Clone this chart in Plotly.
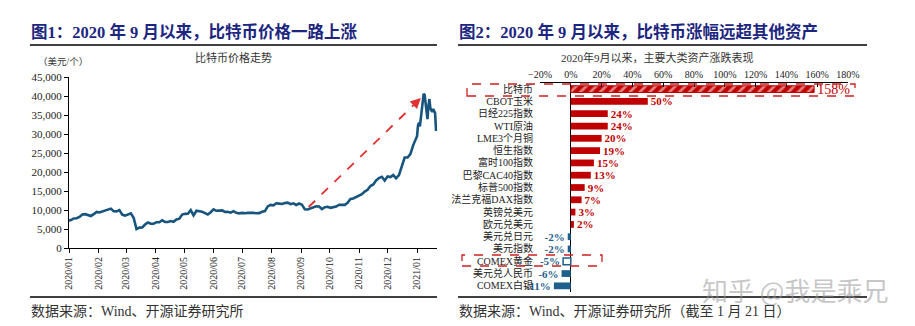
import pandas as pd
import plotly.graph_objects as go

W, H = 915, 326

# ---------------- data: Bitcoin price (USD) ----------------
first_value = 7200  # 2020-01-01
values_2020 = [
    7340, 7770, 7830, 8180, 8820, 8900, 8680, 8430, 8900, 9500,
    9340, 9620, 9900, 10250, 10360, 9700, 9600, 9980, 8780, 8530,
    8760, 9120, 7940, 4970, 5360, 5400, 6190, 6720, 6370, 6400,
    6790, 6780, 7300, 6880, 6850, 7100, 6880, 7500, 7700, 8790,
    8990, 9030, 9990, 8600, 9790, 9670, 9520, 9180, 8840, 9430,
    10200, 9790, 9760, 9890, 9470, 9530, 9300, 9690, 9250, 9120,
    9230, 9130, 9250, 9280, 9240, 9130, 9170, 9530, 9700, 10950,
    11330, 11230, 11760, 11680, 11580, 11850, 11950, 11530, 11750, 11330,
    11700, 11400, 10170, 10130, 10390, 10680, 10950, 10930, 10250, 10730,
    10840, 10570, 10790, 10920, 11380, 11430, 11360, 11920, 12930, 13030,
    13460, 13740, 14150, 14830, 15300, 16300, 16720, 17800, 18400, 18730,
    17730, 18800, 18650, 19190, 18320, 19170, 21300, 23800, 23820, 24700,
    27080, 28950,
]
values_2021 = [
    29400, 32200, 33000, 32000, 34000, 36800, 39400, 40600, 40250, 38300,
    35500, 33900, 37300, 39200, 36800, 36100, 35800, 36600, 36000, 35500,
    30800,
]
dates = ([pd.Timestamp("2020-01-01")]
         + list(pd.date_range("2020-01-03", periods=len(values_2020), freq="3D"))
         + list(pd.date_range("2021-01-01", periods=len(values_2021), freq="D")))
prices = [first_value] + values_2020 + values_2021

month_ticks = list(pd.date_range("2020-01-01", "2021-01-01", freq="MS"))
month_labels = [d.strftime("%Y/%m") for d in month_ticks]

# ---------------- data: asset performance since Sep 2020 ----------------
assets = ["比特币", "CBOT玉米", "日经225指数", "WTI原油", "LME3个月铜", "恒生指数",
          "富时100指数", "巴黎CAC40指数", "标普500指数", "法兰克福DAX指数",
          "英镑兑美元", "欧元兑美元", "美元兑日元", "美元指数", "COMEX黄金",
          "美元兑人民币", "COMEX白银"]
returns = [158, 50, 24, 24, 20, 19, 15, 13, 9, 7, 3, 2, -2, -2, -5, -6, -11]

RED = "#c00000"
BLUE = "#1f5f8b"
NAVY = "#1c2680"
LINE = "#17557f"
FONT = "Liberation Serif, Noto Sans CJK SC"

fig = go.Figure()

# left: price line
fig.add_trace(go.Scatter(x=dates, y=prices, mode="lines",
                         line=dict(color=LINE, width=2.6),
                         xaxis="x", yaxis="y", showlegend=False, hoverinfo="skip"))

# right: bars
pos_idx = [i for i, v in enumerate(returns) if v > 0 and assets[i] != "比特币"]
neg_idx = [i for i, v in enumerate(returns) if v < 0 and assets[i] != "COMEX黄金"]
btc_idx = [assets.index("比特币")]
gold_idx = [assets.index("COMEX黄金")]

def sub(idx):
    return [returns[i] for i in idx], [assets[i] for i in idx], [f"{returns[i]}%" for i in idx]

xv, yv, tv = sub(pos_idx)
fig.add_trace(go.Bar(x=xv, y=yv, orientation="h", text=tv, textposition="outside",
                     constraintext="none", cliponaxis=False,
                     textfont=dict(color=RED, size=11, family=FONT, weight="bold"),
                     marker=dict(color=RED, line=dict(width=0)),
                     xaxis="x2", yaxis="y2", showlegend=False))
xv, yv, tv = sub(neg_idx)
fig.add_trace(go.Bar(x=xv, y=yv, orientation="h", text=tv, textposition="outside",
                     constraintext="none", cliponaxis=False,
                     textfont=dict(color=BLUE, size=11, family=FONT, weight="bold"),
                     marker=dict(color=BLUE, line=dict(width=0)),
                     xaxis="x2", yaxis="y2", showlegend=False))
xv, yv, tv = sub(btc_idx)
fig.add_trace(go.Bar(x=xv, y=yv, orientation="h", text=tv, textposition="outside",
                     constraintext="none", cliponaxis=False,
                     textfont=dict(color=RED, size=14, family=FONT),
                     marker=dict(color=RED, line=dict(color=RED, width=1),
                                 pattern=dict(shape="/", fgcolor="white", bgcolor=RED,
                                              size=7, solidity=0.4, fillmode="overlay")),
                     xaxis="x2", yaxis="y2", showlegend=False))
xv, yv, tv = sub(gold_idx)
fig.add_trace(go.Bar(x=xv, y=yv, orientation="h", text=tv, textposition="outside",
                     constraintext="none", cliponaxis=False,
                     textfont=dict(color=BLUE, size=11, family=FONT, weight="bold"),
                     marker=dict(color="white", line=dict(color=BLUE, width=1.5)),
                     xaxis="x2", yaxis="y2", showlegend=False))

def px(x):
    return x / W

def py(y):
    return 1 - y / H

fig.update_layout(
    width=W, height=H, margin=dict(l=0, r=0, t=0, b=0, pad=0, autoexpand=False),
    paper_bgcolor="white", plot_bgcolor="white",
    barmode="overlay", bargap=0.45,
    font=dict(family=FONT, color="#222"),
    xaxis=dict(domain=[px(69), px(437)], type="date",
               range=["2020-01-01", "2021-01-22"],
               tickvals=month_ticks, ticktext=month_labels, tickangle=-90,
               tickfont=dict(size=10, color="#222"),
               showline=True, linecolor="black", linewidth=1,
               ticks="outside", ticklen=4, tickcolor="black", automargin=False,
               showgrid=False, zeroline=False, anchor="y"),
    yaxis=dict(domain=[py(248), py(77)], range=[0, 45000], dtick=5000,
               tickformat=",d", tickfont=dict(size=11, color="#222"),
               showline=True, linecolor="black", linewidth=1,
               ticks="outside", ticklen=4, tickcolor="black", automargin=False,
               showgrid=False, zeroline=False, anchor="x"),
    xaxis2=dict(domain=[px(540), px(848)], range=[-20, 180], dtick=20,
                ticksuffix="%", side="top", tickfont=dict(size=10, color="#222"),
                showline=True, linecolor="black", linewidth=1,
                ticks="inside", ticklen=4, tickcolor="black", automargin=False,
                showgrid=False, zeroline=True, zerolinecolor="black",
                zerolinewidth=1, anchor="y2"),
    yaxis2=dict(domain=[py(292), py(83)], type="category",
                categoryorder="array", categoryarray=assets, autorange="reversed",
                tickmode="array", tickvals=assets, ticktext=assets,
                tickfont=dict(size=10, color="#222"), ticks="",
                ticklabelstandoff=6, automargin=False,
                showline=False, showgrid=False, zeroline=False, anchor="x2"),
)

ann = []
def text(x, y, t, size, color="#222", xanchor="left", bold=False):
    ann.append(dict(x=px(x), y=py(y), xref="paper", yref="paper", text=t,
                    showarrow=False, xanchor=xanchor, yanchor="middle",
                    font=dict(size=size, color=color, family=FONT,
                              weight="bold" if bold else "normal")))

text(29, 32, "图1：2020 年 9 月以来，比特币价格一路上涨", 16.5, NAVY, bold=True)
text(457, 32, "图2：2020 年 9 月以来，比特币涨幅远超其他资产", 16.5, NAVY, bold=True)
text(233, 58, "比特币价格走势", 11, "#333", "center")
text(63, 61, "（美元/个）", 9.5, "#333", "center")
text(657, 57, "2020年9月以来，主要大类资产涨跌表现", 11, "#333", "center")
text(29, 311, "数据来源：Wind、开源证券研究所", 14, "#333")
text(457, 311, "数据来源：Wind、开源证券研究所（截至 1 月 21 日）", 14, "#333")
ann.append(dict(x=px(795), y=py(289), xref="paper", yref="paper",
                text="知乎 @我是乘兄", showarrow=False, xanchor="center", yanchor="middle",
                font=dict(size=26, color="rgba(150,150,150,0.55)", family="Noto Sans CJK SC")))

# arrowhead of the dashed trend arrow
ann.append(dict(x="2021-01-05", y=39470, ax="2020-12-31", ay=38255,
                xref="x", yref="y", axref="x", ayref="y", text="",
                showarrow=True, arrowhead=2, arrowsize=1.3, arrowwidth=1.6,
                arrowcolor="#e03030", standoff=0))
fig.update_layout(annotations=ann)

shapes = []
for (x0, x1) in [(30, 437), (458, 867)]:
    for y in (45, 297):
        shapes.append(dict(type="line", xref="paper", yref="paper",
                           x0=px(x0), x1=px(x1), y0=py(y), y1=py(y),
                           line=dict(color="black", width=1.5)))
shapes.append(dict(type="rect", xref="paper", yref="paper",
                   x0=px(467), x1=px(855), y0=py(96), y1=py(84),
                   line=dict(color="#d02020", width=1.3, dash="dash")))
shapes.append(dict(type="rect", xref="paper", yref="paper",
                   x0=px(462), x1=px(602), y0=py(266), y1=py(255),
                   line=dict(color="#d02020", width=1.3, dash="dash")))
shapes.append(dict(type="line", xref="x", yref="y",
                   x0="2020-09-09", y0=10790, x1="2021-01-04", y1=39200,
                   line=dict(color="#e03030", width=1.8, dash="dash")))
fig.update_layout(shapes=shapes)

fig.write_html("out.html")
